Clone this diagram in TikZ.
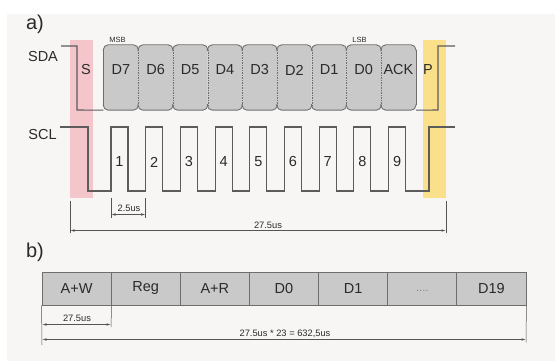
\documentclass[tikz,border=0pt]{standalone}
\usepackage{fontspec}
\setmainfont{Liberation Sans}
\usetikzlibrary{arrows.meta}
\definecolor{bgc}{HTML}{F8F6F4}
\definecolor{wavec}{HTML}{5C5C5C}
\definecolor{boxfill}{HTML}{C9C9C9}
\definecolor{boxline}{HTML}{6E6E6E}
\definecolor{pinkband}{HTML}{F4C6CC}
\definecolor{yellowband}{HTML}{FBE08C}
\definecolor{dimc}{HTML}{555555}
\definecolor{txt}{HTML}{2A2A2A}
\begin{document}
\begin{tikzpicture}[x=1pt,y=-1pt,
  wave/.style={draw=wavec, line width=1.1pt, line join=miter},
  bitbox/.style={rectangle, rounded corners=5pt, fill=boxfill, minimum width=34.7pt, minimum height=65pt, inner sep=0pt},
  bitedge/.style={draw=boxline, line width=0.9pt},
  sep/.style={draw=boxline, line width=0.6pt, dash pattern=on 1.5pt off 1pt},
  biglab/.style={font=\fontsize{14.5}{14.5}\selectfont, text=txt, inner sep=0pt},
  sectlab/.style={font=\fontsize{20}{20}\selectfont, text=txt, inner sep=0pt},
  tinylab/.style={font=\fontsize{7.5}{7.5}\selectfont, text=txt, inner sep=0pt},
  dimlab/.style={font=\fontsize{9.3}{9.3}\selectfont, text=txt, inner sep=0pt},
  dim/.style={draw=dimc, line width=0.5pt},
  dimarrow/.style={draw=dimc, line width=0.6pt, {Latex[length=4.5pt,width=2.4pt]}-{Latex[length=4.5pt,width=2.4pt]}},
  bytebox/.style={rectangle, draw=boxline, fill=boxfill, line width=0.9pt, minimum width=69.14pt, minimum height=33pt, inner sep=0pt, font=\fontsize{14.5}{14.5}\selectfont, text=txt}
]
\useasboundingbox (0,0) rectangle (555,361);
\fill[white] (0,0) rectangle (555,361);
\fill[bgc] (7,14) rectangle (555,361);

% bands
\fill[pinkband] (70,40) rectangle (93,198);
\fill[yellowband] (423,40) rectangle (446,198);

% section labels
\node[sectlab] (la) at (35,24) {a)};
\node[sectlab] (lb) at (35,252) {b)};
\node[biglab] (sda) at (43,57) {SDA};
\node[biglab] (scl) at (42.5,135) {SCL};

% data boxes
\foreach \lab [count=\i] in {D7,D6,D5,D4,D3,D2,D1,D0,ACK} {
  \pgfmathsetmacro\xc{103.5+34.7*(\i-1)+17.35}
  \node[bitbox] (b\i) at (\xc,77.5) {};
  \node[biglab] (t\i) at (\xc,70) {\lab};
  \draw[bitedge, rounded corners=5pt] ([yshift=-6pt]b\i.north west) -- (b\i.north west) -- (b\i.north east) -- ([yshift=-6pt]b\i.north east);
  \draw[bitedge, rounded corners=5pt] ([yshift=6pt]b\i.south west) -- (b\i.south west) -- (b\i.south east) -- ([yshift=6pt]b\i.south east);
}
\foreach \i in {1,...,8} {
  \draw[sep] ([yshift=-5pt]b\i.north east) -- ([yshift=5pt]b\i.south east);
}
\draw[bitedge] ([yshift=-5pt]b1.north west) -- ([yshift=5pt]b1.south west);
\draw[bitedge] ([yshift=-5pt]b9.north east) -- ([yshift=5pt]b9.south east);

\node[biglab] (s) at (86,70) {S};
\node[biglab] (p) at (428,70) {P};
\node[tinylab] (msb) at (117.5,39.5) {MSB};
\node[tinylab] (lsb) at (359.5,39.5) {LSB};

% SDA waveform
\coordinate (sdaL) at (61,46);
\coordinate (sdaR) at (455,46);
\draw[wave] (sdaL) -- (77,46) -- (77,110) -- (b1.south west);
\draw[wave] (b9.south east) -- (438,110) -- (438,46) -- (sdaR);

% SCL waveform
\coordinate (sclL) at (60,127);
\coordinate (sclR) at (455,127);
\draw[wave] (sclL) -- (88,127) -- (88,191)
  \foreach \k in {0,...,8} { -- ({111+34.7*\k},191) -- ({111+34.7*\k},127) -- ({128+34.7*\k},127) -- ({128+34.7*\k},191) }
  -- (429,191) -- (429,127) -- (sclR);
\foreach \k in {1,...,9} {
  \node[biglab] (n\k) at ({111+34.7*(\k-1)+8.5},162) {\k};
}

% dimensions a)
\coordinate (d1a) at (111,214.5);
\coordinate (d1b) at (145.7,214.5);
\draw[dim] (111,198) -- (111,217.5);
\draw[dim] (145.7,198) -- (145.7,217.5);
\draw[dimarrow] (d1a) -- (d1b);
\node[dimlab] (l25) at (129,208.5) {2.5us};

\coordinate (d2a) at (70,230.5);
\coordinate (d2b) at (446,230.5);
\draw[dim] (70,201) -- (70,233);
\draw[dim] (446,201) -- (446,233);
\draw[dimarrow] (d2a) -- (d2b);
\node[dimlab] (l275) at (268,225) {27.5us};

% b) bytes
\foreach \lab [count=\i] in {A+W,Reg,A+R,D0,D1,{},D19} {
  \node[bytebox] (c\i) at ({42+69.14*(\i-0.5)},288.5) {\lab};
}
\node[font=\fontsize{11}{11}\selectfont, text=gray, inner sep=0pt] (dots) at ([yshift=-2pt]c6.center) {....};

\coordinate (e1a) at (42,324.5);
\coordinate (e1b) at (111,324.5);
\draw[dim] (c1.south west) -- (42,345);
\draw[dim] (c1.south east) -- (111,327);
\draw[dimarrow] (e1a) -- (e1b);
\node[dimlab] (lb275) at (77,318) {27.5us};

\coordinate (e2a) at (42,339.5);
\coordinate (e2b) at (526,339.5);
\draw[dim] (c7.south east) -- (526,342.5);
\draw[dimarrow] (e2a) -- (e2b);
\node[dimlab] (ltot) at (285,333.5) {27.5us * 23 = 632,5us};
\end{tikzpicture}
\end{document}
